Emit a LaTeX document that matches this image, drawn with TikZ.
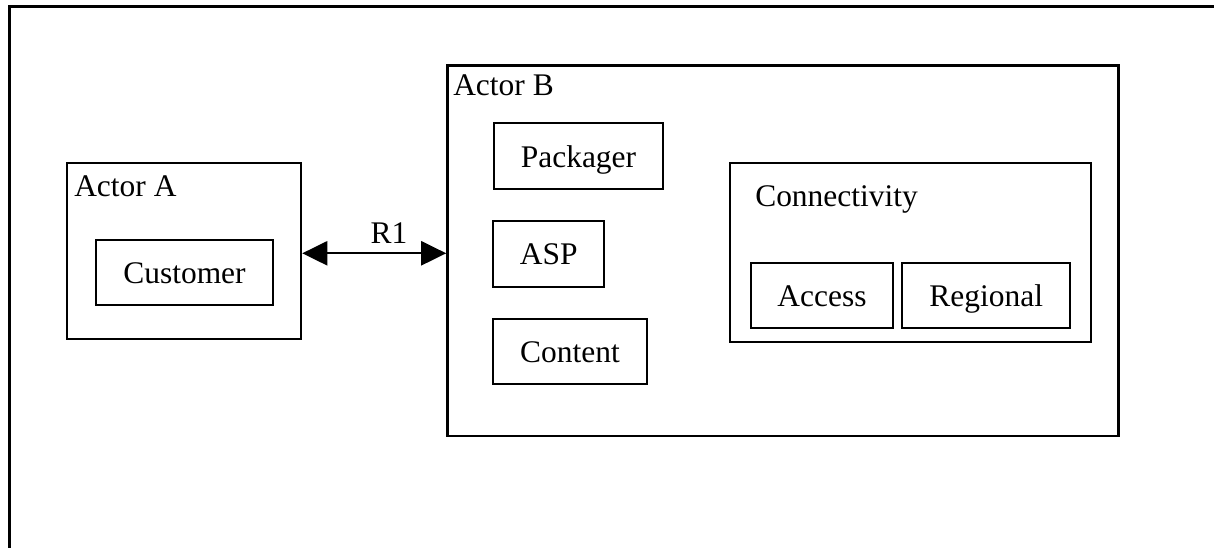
\documentclass[tikz,border=0pt]{standalone}
\usepackage{fontspec}
\setmainfont{Liberation Serif}
\usetikzlibrary{arrows.meta}

\begin{document}
\begin{tikzpicture}[x=0.75pt,y=-0.75pt,
  every node/.style={font=\fontsize{23.6}{28}\selectfont},
  frameline/.style={line width=2.25pt, line cap=rect},
  actorbox/.style={draw, line width=1.9pt, inner sep=0pt},
  rolebox/.style={draw, line width=1.5pt, inner sep=0pt, align=center,
                  text height=16.4pt, text depth=0pt},
  caption/.style={anchor=base west, inner sep=0pt},
  link/.style={line width=1.7pt, {Triangle[length=18.75pt,width=18pt]}-{Triangle[length=18.75pt,width=18pt]}}
]
\useasboundingbox (0,0) rectangle (1214,548);

% open outer frame along the top and left
\draw[frameline] (9.7,560) -- (9.7,7) -- (1230,7);

% Actor A and its role
\node[actorbox, minimum width=175.5pt, minimum height=132pt] (actorA) at (184,251) {};
\node[caption] (actorAlabel) at (74,196.7) {Actor A};
\node[rolebox, minimum width=132.75pt, minimum height=48.75pt] (customer) at (184.5,272.5) {Customer};

% Actor B and its roles
\node[actorbox, minimum width=503.25pt, minimum height=277.9pt] (actorB) at (783,250.75) {};
\node[caption] (actorBlabel) at (453,96) {Actor B};
\node[rolebox, minimum width=126.75pt, minimum height=49.5pt] (packager) at (578.5,156.3) {Packager};
\node[rolebox, minimum width=83pt, minimum height=50pt] (asp) at (548.7,254) {ASP};
\node[rolebox, minimum width=115pt, minimum height=48.75pt] (content) at (570,351.8) {Content};

% connectivity group
\node[rolebox, minimum width=270.75pt, minimum height=133.8pt] (connectivity) at (910.5,252.5) {};
\node[caption] (connlabel) at (755,206.7) {Connectivity};
\node[rolebox, minimum width=107pt, minimum height=48.75pt] (access) at (822,295.2) {Access};
\node[rolebox, minimum width=125.8pt, minimum height=48.75pt] (regional) at (986.2,295.2) {Regional};

% relation R1 between the actors
\coordinate (r1) at (0,253.3);
\draw[link] (actorA.east |- r1) -- (actorB.west |- r1);
\node[anchor=base, inner sep=0pt] (r1label) at (389,243.3) {R1};
\end{tikzpicture}
\end{document}
